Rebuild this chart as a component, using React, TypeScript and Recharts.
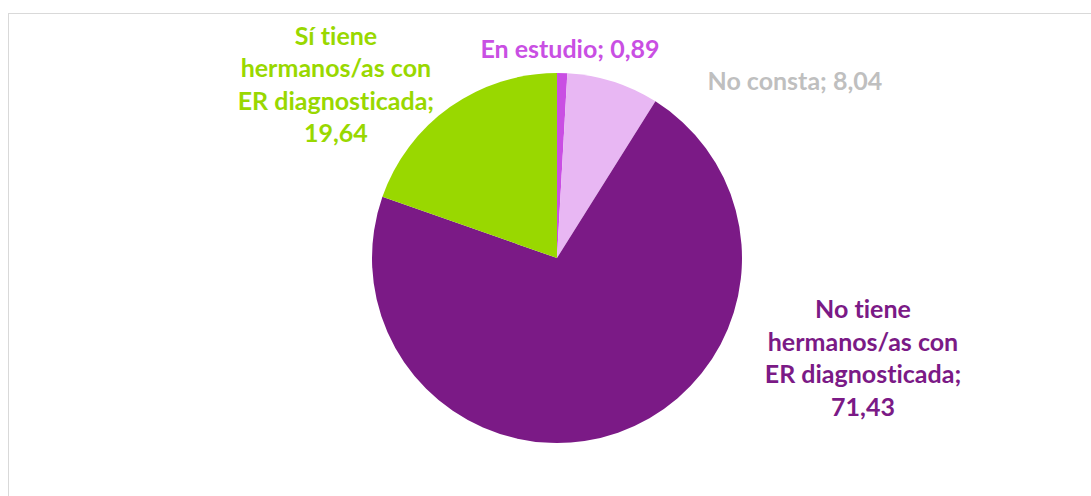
import { PieChart, Pie, Cell } from 'recharts';

// Categories in clockwise order starting at 12 o'clock
const categories = [
  'En estudio',
  'No consta',
  'No tiene hermanos/as con ER diagnosticada',
  'Sí tiene hermanos/as con ER diagnosticada',
];
const percentages = [0.89, 8.04, 71.43, 19.64];

const sliceColors = ['#C94FE3', '#E8B7F3', '#7B1A86', '#99D800'];
const labelColors = ['#C94FE3', '#BFBFBF', '#7B1A86', '#99D800'];

// label centre relative to pie centre, in units of the outer radius
const labelOffsets = [
  [0.07, -1.135],
  [1.286, -0.962],
  [1.654, 0.535],
  [-1.195, -0.943],
];

const chartData = categories.map((name, i) => ({ name, value: percentages[i] }));

const LINE_H = 32.5;

function wrap(text: string, max: number) {
  const words = text.split(' ');
  const lines: string[] = [];
  let cur = '';
  words.forEach(w => {
    const next = cur ? `${cur} ${w}` : w;
    if (next.length > max && cur) {
      lines.push(cur);
      cur = w;
    } else {
      cur = next;
    }
  });
  if (cur) lines.push(cur);
  return lines;
}

function renderLabel(props: any) {
  const { cx, cy, outerRadius, index, name, value } = props;
  const [ox, oy] = labelOffsets[index];
  const x = cx + ox * outerRadius;
  const y = cy + oy * outerRadius;
  const lines = wrap(`${name}; ${String(value).replace('.', ',')}`, 17);
  const top = y - ((lines.length - 1) * LINE_H) / 2;
  return (
    <text
      x={x}
      y={top}
      textAnchor="middle"
      dominantBaseline="central"
      fill={labelColors[index]}
      fontFamily="Lato, 'Open Sans', sans-serif"
      fontWeight={700}
      fontSize={25}
      style={{ fontVariantLigatures: 'none' }}
    >
      {lines.map((l, i) => (
        <tspan key={i} x={x} y={top + i * LINE_H}>
          {l}
        </tspan>
      ))}
    </text>
  );
}

export default function App() {
  return (
    <div
      style={{
        position: 'fixed',
        left: 8,
        top: 13,
        width: 1083,
        height: 483,
        overflow: 'hidden',
        borderLeft: '1.5px solid #d9d9d9',
        borderTop: '1.5px solid #d9d9d9',
        background: '#fff',
      }}
    >
      <style>{`.recharts-pie-sectors{filter:drop-shadow(1px 3px 4px rgba(0,0,0,0.22));}`}</style>
      <PieChart width={1083} height={483}>
        <Pie
          data={chartData}
          dataKey="value"
          nameKey="name"
          cx={543}
          cy={239}
          outerRadius={185}
          startAngle={90}
          endAngle={-270}
          stroke="none"
          label={renderLabel}
          labelLine={false}
          isAnimationActive={false}
        >
          {chartData.map((_, i) => (
            <Cell key={i} fill={sliceColors[i]} />
          ))}
        </Pie>
      </PieChart>
    </div>
  );
}
